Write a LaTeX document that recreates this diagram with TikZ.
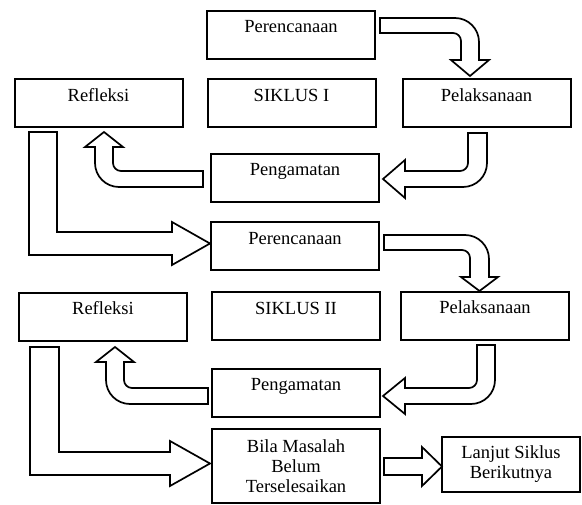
\documentclass[tikz,border=0pt]{standalone}
\usepackage{fontspec}
\setmainfont{Liberation Serif}
\usetikzlibrary{calc}

\begin{document}
\begin{tikzpicture}[x=1pt,y=1pt,
    stage/.style={draw,line width=2pt,outer sep=0pt,minimum width=168pt,inner xsep=0pt,inner ysep=0pt,text height=22pt,text depth=26pt},
    note/.style={draw,line width=2pt,outer sep=0pt,align=center,inner sep=0pt},
    blockarrow/.style={draw,line width=1.7pt,fill=white}]
    \tikzstyle{every node}=[font=\fontsize{18.5}{20}\selectfont]
      \useasboundingbox (0,0) rectangle (582,-505);

      \node[stage] (per1) at (291,-35)      {Perencanaan};
      \node[stage] (ref1) at (98.5,-103.5)  {Refleksi};
      \node[stage] (sik1) at (291.5,-103.5) {SIKLUS I};
      \node[stage] (pel1) at (486.5,-103.5) {Pelaksanaan};
      \node[stage] (pen1) at (295,-178)     {Pengamatan};
      \node[stage] (per2) at (295,-246.5)   {Perencanaan};
      \node[stage] (ref2) at (103,-317)     {Refleksi};
      \node[stage] (sik2) at (296,-316.5)   {SIKLUS II};
      \node[stage] (pel2) at (485,-316)     {Pelaksanaan};
      \node[stage] (pen2) at (296,-393)     {Pengamatan};
      \node[note,minimum width=168pt,minimum height=74pt] (bila) at (296,-466) {Bila Masalah\\Belum\\Terselesaikan};
      \node[note,minimum width=138pt,minimum height=55pt] (lanjut) at (511,-464.5) {Lanjut Siklus\\Berikutnya};

      \draw[blockarrow] ($(per1.east)+(5,17)$) -- ++(75,0) arc[start angle=90,end angle=0,radius=24pt] -- ++(0,-18) -- ++(10,0) -- ($(pel1.north)+(-16.5,3.5)$) -- ++(-19,16) -- ++(10,0) -- ++(0,19) arc[start angle=0,end angle=90,radius=8pt] -- ++(-73,0) -- cycle;
      \draw[blockarrow] ($(pel1.south)+(-18.5,-5.5)$) -- ++(19,0) -- ++(0,-30) arc[start angle=0,end angle=-90,radius=24pt] -- ++(-58,0) -- ++(0,-11) -- ($(pen1.east)+(4,-1)$) -- ++(22,19) -- ++(0,-11) -- ++(55,0) arc[start angle=-90,end angle=0,radius=8pt] -- cycle;
      \draw[blockarrow] ($(pen1.west)+(-8,7)$) -- ++(-82,0) arc[start angle=-90,end angle=-180,radius=8pt] -- ++(0,16) -- ++(10,0) -- ($(ref1.south)+(5.5,-4.5)$) -- ++(-19,-15) -- ++(10,0) -- ++(0,-16) arc[start angle=180,end angle=270,radius=24pt] -- ++(84,0) -- cycle;
      \draw[blockarrow] ($(ref1.south)+(-69.5,-4.5)$) -- ++(28,0) -- ++(0,-100) -- ++(115,0) -- ++(0,10) -- ($(per2.west)+(-1,3)$) -- ++(-38,-21.5) -- ++(0,10) -- ++(-143,0) -- cycle;

      \draw[blockarrow] ($(per2.east)+(5,11.5)$) -- ++(81,0) arc[start angle=90,end angle=0,radius=24pt] -- ++(0,-18) -- ++(9,0) -- ($(pel2.north)+(-5.5,1)$) -- ++(-18.5,14) -- ++(9,0) -- ++(0,19) arc[start angle=0,end angle=90,radius=8pt] -- ++(-78,0) -- cycle;
      \draw[blockarrow] ($(pel2.south)+(-8,-5)$) -- ++(18,0) -- ++(0,-35) arc[start angle=0,end angle=-90,radius=24pt] -- ++(-66,0) -- ++(0,-10) -- ($(pen2.east)+(3,-3)$) -- ++(22,18) -- ++(0,-10) -- ++(64,0) arc[start angle=-90,end angle=0,radius=8pt] -- cycle;
      \draw[blockarrow] ($(pen2.west)+(-4,5)$) -- ++(-76,0) arc[start angle=-90,end angle=-180,radius=8pt] -- ++(0,18) -- ++(10,0) -- ($(ref2.south)+(12,-6)$) -- ++(-19,-15) -- ++(10,0) -- ++(0,-18) arc[start angle=180,end angle=270,radius=24pt] -- ++(78,0) -- cycle;
      \draw[blockarrow] ($(ref2.south)+(-73,-6)$) -- ++(29,0) -- ++(0,-105) -- ++(111,0) -- ++(0,11) -- ($(bila.west)+(-2,2.5)$) -- ++(-40,-22.5) -- ++(0,11) -- ++(-140,0) -- cycle;
      \draw[blockarrow] ($(bila.east)+(4,8)$) -- ++(38,0) -- ++(0,11) -- ($(lanjut.west)+(0,-2)$) -- ++(-20,-19.5) -- ++(0,11) -- ++(-38,0) -- cycle;
    \end{tikzpicture}
\end{document}
